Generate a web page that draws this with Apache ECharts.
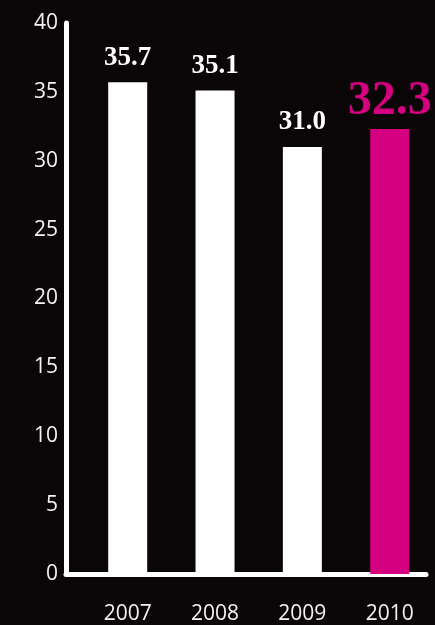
<!DOCTYPE html>
<html>
<head>
<meta charset="utf-8">
<script src="https://cdn.jsdelivr.net/npm/echarts@6/dist/echarts.min.js"></script>
<style>
  html, body { margin: 0; padding: 0; background: #0a0607; }
  #chart { width: 435px; height: 625px; }
</style>
</head>
<body>
<div id="chart"></div>
<script>
// Years shown along the bottom and the yearly values
const years = [2007, 2008, 2009, 2010];
const values = [35.7, 35.1, 31.0, 32.3];
// The latest year is highlighted
const highlightYear = 2010;

const WHITE = '#ffffff';
const PINK = '#d5007f';

const barData = years.map((yr, i) => {
  const hot = yr === highlightYear;
  return {
    value: [yr, values[i]],
    itemStyle: { color: hot ? PINK : WHITE },
    label: {
      color: hot ? PINK : WHITE,
      fontSize: hot ? 48 : 27,
      distance: hot ? 3 : 11
    }
  };
});

const chart = echarts.init(document.getElementById('chart'), null, { renderer: 'canvas' });
chart.setOption({
  backgroundColor: '#0a0607',
  animation: false,
  grid: { left: 66, right: 9, top: 23, bottom: 48, containLabel: false },
  xAxis: {
    type: 'value',
    min: 2006.2935,
    max: 2010.4157,
    splitLine: { show: false },
    axisTick: { show: false },
    axisLine: { show: true, lineStyle: { color: WHITE, width: 5 } },
    axisLabel: {
      customValues: years,
      formatter: v => String(v),
      color: '#f2f2f2',
      fontFamily: 'Open Sans',
      fontSize: 21,
      margin: 30
    }
  },
  yAxis: {
    type: 'value',
    min: 0,
    max: 40,
    interval: 5,
    splitLine: { show: false },
    axisTick: { show: false },
    axisLine: { show: true, lineStyle: { color: WHITE, width: 5 } },
    axisLabel: {
      color: '#f2f2f2',
      fontFamily: 'Open Sans',
      fontSize: 21,
      margin: 8
    }
  },
  series: [{
    type: 'bar',
    barWidth: 39,
    data: barData,
    label: {
      show: true,
      position: 'top',
      fontFamily: 'Liberation Serif',
      fontWeight: 'bold',
      formatter: p => p.value[1].toFixed(1)
    }
  }]
});
</script>
</body>
</html>
